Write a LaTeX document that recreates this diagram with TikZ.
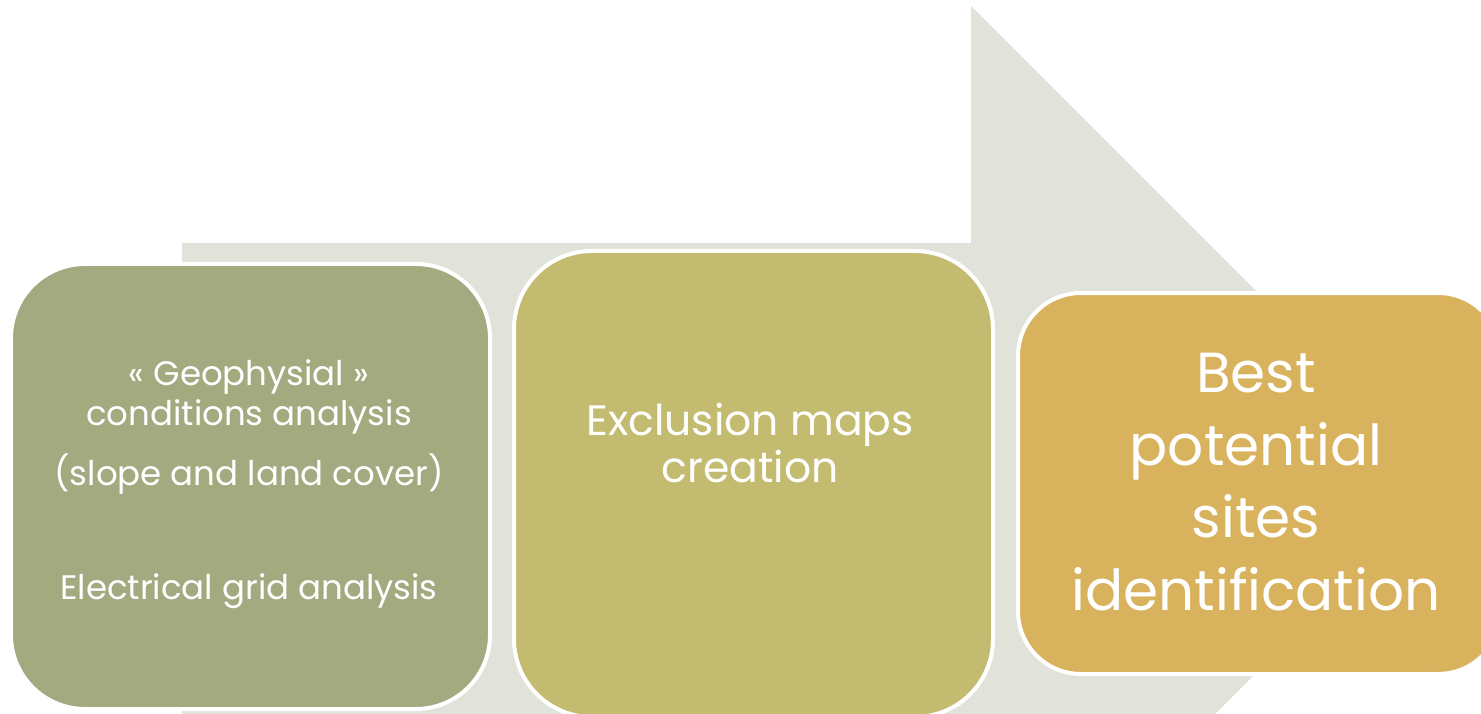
\documentclass[tikz,border=0pt]{standalone}
\usepackage{fontspec}
\setmainfont{Poppins}
\definecolor{arrowgray}{RGB}{225,226,217}
\definecolor{stageA}{RGB}{164,170,128}
\definecolor{stageB}{RGB}{195,187,111}
\definecolor{stageC}{RGB}{217,178,94}
\begin{document}
\begin{tikzpicture}[x=1pt,y=-1pt,
  stagebox/.style={draw=white, line width=4pt, inner sep=0pt, anchor=north west},
  stagetext/.style={text=white, anchor=base, inner sep=0pt},
  small/.style={font=\fontsize{34}{34}\selectfont},
  medium/.style={font=\fontsize{42.5}{42.5}\selectfont},
  large/.style={font=\fontsize{56.5}{56.5}\selectfont}]
\useasboundingbox (0,0) rectangle (1481,714);
\begin{scope}
  \clip (0,0) rectangle (1481,714);
  % background block arrow
  \fill[arrowgray] (182,243) -- (971,243) -- (971,6) -- (1447,482)
    -- (971,958) -- (971,721) -- (182,721) -- cycle;
  % the three stages
  \node[stagebox, fill=stageA, minimum width=479pt, minimum height=445pt,
        rounded corners=74pt] (s1) at (9,262) {};
  \node[stagebox, fill=stageB, minimum width=479pt, minimum height=466pt,
        rounded corners=78pt] (s2) at (512,249) {};
  \node[stagebox, fill=stageC, minimum width=483pt, minimum height=381pt,
        rounded corners=63pt] (s3) at (1016,291) {};
\end{scope}
% stage 1
\node[stagetext, small] (t1a) at (249,385) {« Geophysial »};
\node[stagetext, small] (t1b) at (249,425) {conditions analysis};
\node[stagetext, small] (t1c) at (249,485) {(slope and land cover)};
\node[stagetext, small] (t1d) at (249,599) {Electrical grid analysis};
% stage 2
\node[stagetext, medium] (t2a) at (750,435) {Exclusion maps};
\node[stagetext, medium] (t2b) at (750,482) {creation};
% stage 3
\node[stagetext, large] (t3a) at (1256,392) {Best};
\node[stagetext, large] (t3b) at (1256,465) {potential};
\node[stagetext, large] (t3c) at (1256,537) {sites};
\node[stagetext, large] (t3d) at (1256,610) {identification};
\end{tikzpicture}
\end{document}
